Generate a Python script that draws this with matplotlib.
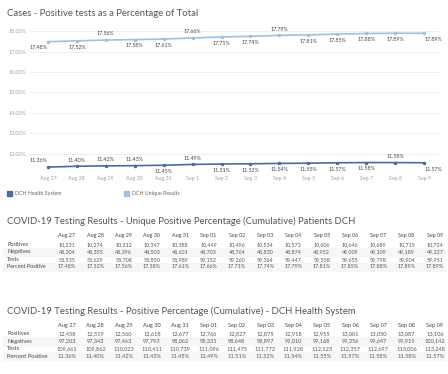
import numpy as np
import matplotlib
matplotlib.use("Agg")
from matplotlib import pyplot as plt
from matplotlib.patches import Rectangle

# datos
dates = ["Aug 27", "Aug 28", "Aug 29", "Aug 30", "Aug 31", "Sep 1", "Sep 2",
         "Sep 3", "Sep 4", "Sep 5", "Sep 6", "Sep 7", "Sep 8", "Sep 9"]
table_dates = ["Aug 27", "Aug 28", "Aug 29", "Aug 30", "Aug 31", "Sep 01", "Sep 02",
               "Sep 03", "Sep 04", "Sep 05", "Sep 06", "Sep 07", "Sep 08", "Sep 09"]
row_names = ["Positives", "Negatives", "Tests", "Percent Positive"]

uniq_pos = [10231, 10274, 10312, 10347, 10388, 10449, 10496, 10534, 10573, 10606, 10646, 10689, 10715, 10724]
uniq_neg = [48304, 48355, 48396, 48503, 48601, 48703, 48764, 48830, 48874, 48952, 49009, 49109, 49189, 49227]
uniq_tests = [58535, 58629, 58708, 58850, 58989, 59152, 59260, 59364, 59447, 59558, 59655, 59798, 59904, 59951]
uniq_pct = [17.48, 17.52, 17.56, 17.58, 17.61, 17.66, 17.71, 17.74, 17.79, 17.81, 17.85, 17.88, 17.89, 17.89]

dch_pos = [12458, 12519, 12560, 12618, 12677, 12766, 12827, 12875, 12918, 12955, 13001, 13050, 13087, 13106]
dch_neg = [97203, 97343, 97463, 97793, 98062, 98331, 98648, 98897, 99010, 99168, 99356, 99647, 99919, 100142]
dch_tests = [109661, 109862, 110023, 110411, 110739, 111096, 111475, 111772, 111928, 112123, 112357, 112697, 113006, 113248]
dch_pct = [11.36, 11.40, 11.42, 11.43, 11.45, 11.49, 11.51, 11.52, 11.54, 11.55, 11.57, 11.58, 11.58, 11.57]

# posicion de las etiquetas (1 = arriba, -1 = abajo)
uniq_side = [-1, -1, 1, -1, -1, 1, -1, -1, 1, -1, -1, -1, -1, -1]
dch_side = [1, 1, 1, 1, -1, 1, -1, -1, -1, -1, -1, -1, 1, -1]

W, H = 448, 374
dark = "#4a6b9b"
light = "#9dc1df"
grey_title = "#555555"
grey_txt = "#666666"

plt.rcParams['font.family'] = ['Lato', 'DejaVu Sans']

def fx(x):
    return x / W

def fy(y):
    return 1 - y / H

fig = plt.figure(figsize=(W / 100, H / 100), dpi=100)
fig.patch.set_facecolor("white")

fig.text(fx(7), fy(13), "Cases - Positive tests as a Percentage of Total",
         fontsize=6.8, color=grey_title, va="center", ha="left")

ax = fig.add_axes([fx(30), fy(172), 410 / W, 150 / H])
x = np.arange(len(dates))
ax.plot(x, uniq_pct, color=light, lw=1.2, marker="o", ms=1.5, zorder=3)
ax.plot(x, dch_pct, color=dark, lw=1.2, marker="o", ms=1.5, zorder=3)

ax.set_xlim(-0.62, 13.55)
ax.set_ylim(11.12, 18.44)
ax.set_yticks(np.arange(12, 19))
ax.set_yticklabels(["%.2f%%" % v for v in np.arange(12, 19)])
ax.set_xticks(x)
ax.set_xticklabels(dates)
ax.tick_params(axis="both", length=0, labelsize=3.8, colors="#a0a0a0", pad=3)
ax.grid(axis="y", color="#ececec", lw=0.6)
ax.set_axisbelow(True)
for s in ax.spines.values():
    s.set_visible(False)

def label_series(vals, sides):
    n = len(vals)
    for i, (v, s) in enumerate(zip(vals, sides)):
        dx = 0
        if i == 0:
            dx = -7
        elif i == n - 1:
            dx = 7
        dy = 4.5 if s > 0 else -4.5
        ax.annotate("%.2f%%" % v, (i, v), xytext=(dx, dy), textcoords="offset points",
                    ha="center", va="center", fontsize=3.8, color="#444444")

label_series(uniq_pct, uniq_side)
label_series(dch_pct, dch_side)

# leyenda
for xs, col, name in [(7, dark, "DCH Health System"), (124, light, "DCH Unique Results")]:
    fig.add_artist(Rectangle((fx(xs), fy(196)), 5 / W, 5 / H, color=col, transform=fig.transFigure))
    fig.text(fx(xs + 8), fy(193.5), name, fontsize=3.8, color=grey_txt, va="center", ha="left")

col_x = [67 + 28.3 * k for k in range(len(table_dates))]

def draw_table(title, ytitle, yhead, rows, fs):
    fig.text(fx(7), fy(ytitle), title, fontsize=6.8, color=grey_title, va="center", ha="left")
    for cx, d in zip(col_x, table_dates):
        fig.text(fx(cx), fy(yhead), d, fontsize=fs, color="#444444", va="center", ha="center")
    for r, (name, vals) in enumerate(rows):
        yr = yhead + 8.5 + 7.5 * r
        if r % 2 == 1:
            fig.add_artist(Rectangle((fx(3), fy(yr + 3.7)), 442 / W, 7.4 / H,
                                     color="#f6f6f6", transform=fig.transFigure, zorder=0))
        fig.text(fx(7), fy(yr), name, fontsize=fs, color="#444444", va="center", ha="left")
        for cx, v in zip(col_x, vals):
            if name == "Percent Positive":
                s = "%.2f%%" % v
            else:
                s = "{:,}".format(v)
            fig.text(fx(cx), fy(yr), s, fontsize=fs, color="#555555", va="center", ha="center")

draw_table("COVID-19 Testing Results - Unique Positive Percentage (Cumulative) Patients DCH",
           221, 236, list(zip(row_names, [uniq_pos, uniq_neg, uniq_tests, uniq_pct])), 3.9)
draw_table("COVID-19 Testing Results - Positive Percentage (Cumulative) - DCH Health System",
           311, 325, list(zip(row_names, [dch_pos, dch_neg, dch_tests, dch_pct])), 4.1)

fig.savefig("out.png", dpi=100)
